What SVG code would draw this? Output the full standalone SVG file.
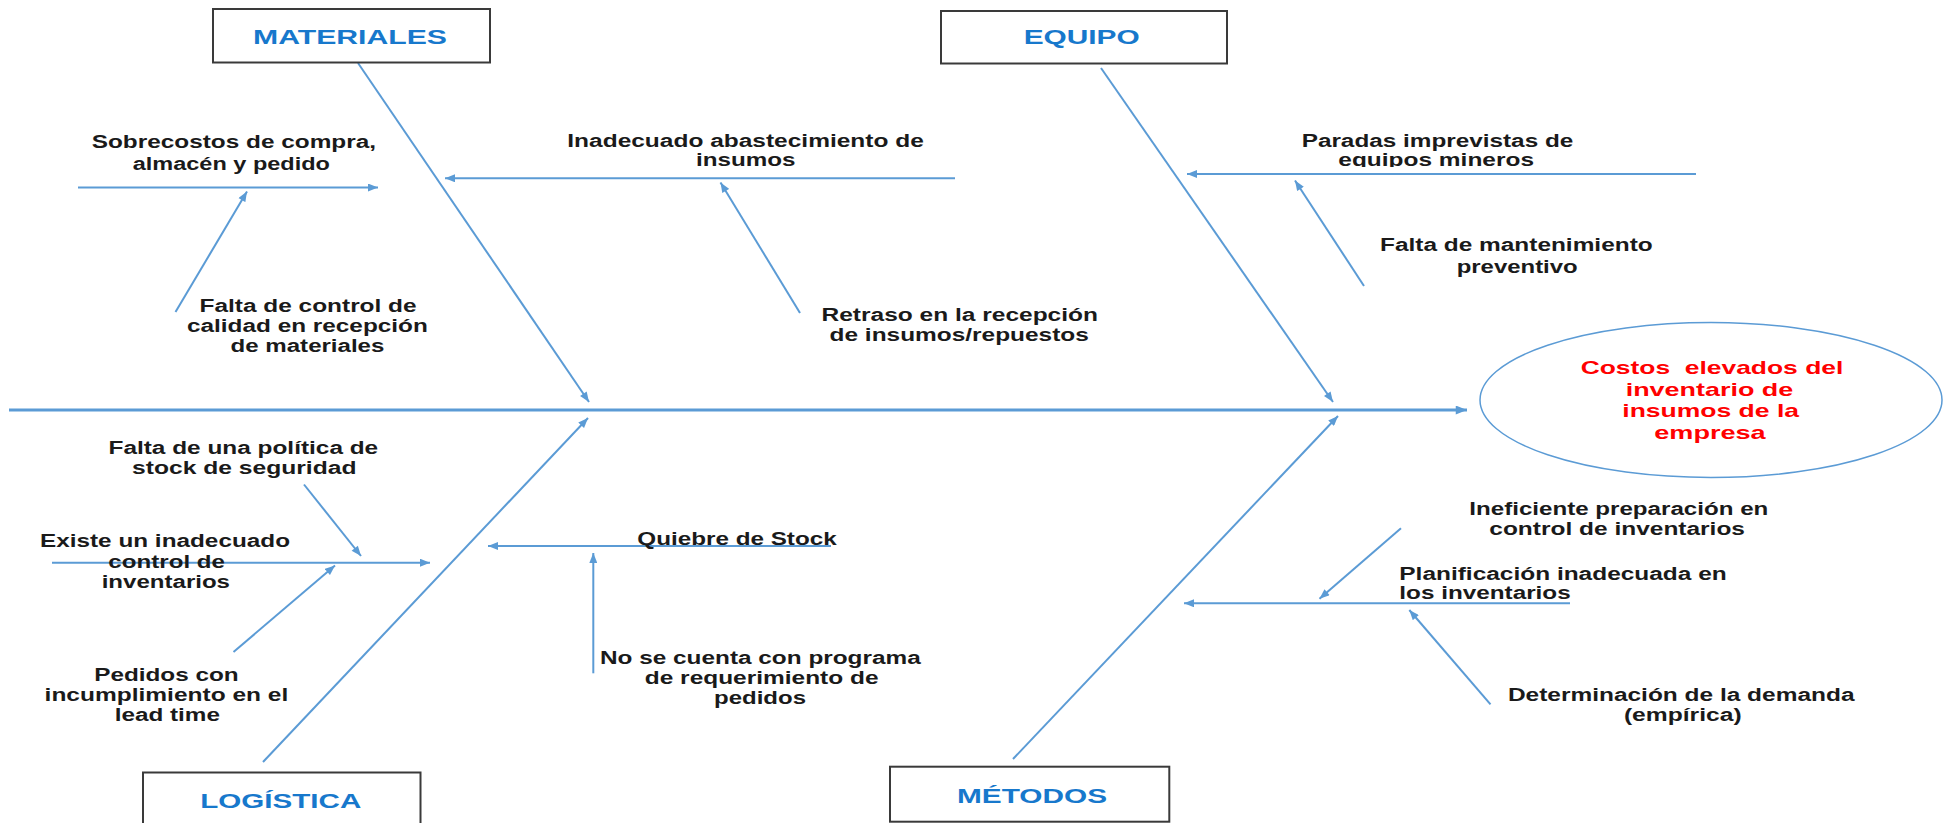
<svg xmlns="http://www.w3.org/2000/svg" width="1943" height="823" viewBox="0 0 1943 823">
<style>
.ln{stroke:#5b9bd5;stroke-width:2;fill:none}
.sp{stroke:#5b9bd5;stroke-width:3;fill:none}
.box{fill:#ffffff;stroke:#3a3a3a;stroke-width:2}
.cat{font-family:"Liberation Sans",Arial,sans-serif;font-weight:bold;font-size:21px;fill:#1778cc}
.t{font-family:"Liberation Sans",Arial,sans-serif;font-weight:bold;font-size:18px;fill:#1a1a1a}
.eff{font-family:"Liberation Sans",Arial,sans-serif;font-weight:bold;font-size:19px;fill:#ff0000}
</style>
<defs>
<marker id="ah" viewBox="0 0 10 8" refX="10" refY="4" markerWidth="11" markerHeight="8" markerUnits="userSpaceOnUse" orient="auto">
<path d="M0,0 L10,4 L0,8 z" fill="#5b9bd5"/>
</marker>
<marker id="ahb" viewBox="0 0 10 8" refX="10" refY="4" markerWidth="13" markerHeight="9" markerUnits="userSpaceOnUse" orient="auto">
<path d="M0,0 L10,4 L0,8 z" fill="#5b9bd5"/>
</marker>
<clipPath id="clipEq"><rect x="1320" y="120" width="240" height="47"/></clipPath>
</defs>
<rect width="1943" height="823" fill="#ffffff"/>

<g id="connectors">
<line class="sp" x1="9" y1="410" x2="1467" y2="410" marker-end="url(#ahb)"/>
<line class="ln" x1="358" y1="63" x2="589" y2="402" marker-end="url(#ah)"/>
<line class="ln" x1="1101" y1="68" x2="1333" y2="402" marker-end="url(#ah)"/>
<line class="ln" x1="263" y1="762" x2="588" y2="418" marker-end="url(#ah)"/>
<line class="ln" x1="1013" y1="759" x2="1338" y2="416" marker-end="url(#ah)"/>
<line class="ln" x1="78" y1="187.5" x2="378" y2="187.5" marker-end="url(#ah)"/>
<line class="ln" x1="175.5" y1="312" x2="247" y2="191.5" marker-end="url(#ah)"/>
<line class="ln" x1="955" y1="178.3" x2="445" y2="178.3" marker-end="url(#ah)"/>
<line class="ln" x1="800" y1="313" x2="720.5" y2="182.5" marker-end="url(#ah)"/>
<line class="ln" x1="1696" y1="174" x2="1187" y2="174" marker-end="url(#ah)"/>
<line class="ln" x1="1364" y1="286" x2="1295" y2="180.5" marker-end="url(#ah)"/>
<line class="ln" x1="52" y1="562.7" x2="430" y2="562.7" marker-end="url(#ah)"/>
<line class="ln" x1="304" y1="484.5" x2="361" y2="556" marker-end="url(#ah)"/>
<line class="ln" x1="233.5" y1="652" x2="335" y2="565.5" marker-end="url(#ah)"/>
<line class="ln" x1="831" y1="546" x2="488" y2="546" marker-end="url(#ah)"/>
<line class="ln" x1="593.3" y1="673.3" x2="593.3" y2="553" marker-end="url(#ah)"/>
<line class="ln" x1="1570" y1="603.3" x2="1184" y2="603.3" marker-end="url(#ah)"/>
<line class="ln" x1="1401" y1="528.3" x2="1319.5" y2="598.7" marker-end="url(#ah)"/>
<line class="ln" x1="1490.5" y1="704.3" x2="1409.3" y2="610" marker-end="url(#ah)"/>
</g>

<g id="materiales">
<rect class="box" x="213" y="9" width="277" height="53.5"/>
<text class="cat" x="253" y="44" textLength="194" lengthAdjust="spacingAndGlyphs">MATERIALES</text>
</g>
<g id="equipo">
<rect class="box" x="941" y="11" width="286" height="52.5"/>
<text class="cat" x="1023.7" y="44.3" textLength="116" lengthAdjust="spacingAndGlyphs">EQUIPO</text>
</g>
<g id="logistica">
<rect class="box" x="143" y="772.5" width="277.5" height="60"/>
<text class="cat" x="200.3" y="807.7" textLength="161" lengthAdjust="spacingAndGlyphs">LOGÍSTICA</text>
</g>
<g id="metodos">
<rect class="box" x="890" y="766.7" width="279.3" height="55"/>
<text class="cat" x="957" y="802.7" textLength="150" lengthAdjust="spacingAndGlyphs">MÉTODOS</text>
</g>

<g id="efecto">
<ellipse cx="1711" cy="400" rx="231" ry="77.5" fill="#ffffff" stroke="#5b9bd5" stroke-width="1.5"/>
<text class="eff" x="1580.7" y="374.3" textLength="262.6" lengthAdjust="spacingAndGlyphs" style="white-space:pre">Costos  elevados del</text>
<text class="eff" x="1625.7" y="395.8" textLength="167.6" lengthAdjust="spacingAndGlyphs">inventario de</text>
<text class="eff" x="1622.3" y="417.3" textLength="176.7" lengthAdjust="spacingAndGlyphs">insumos de la</text>
<text class="eff" x="1654.3" y="438.8" textLength="111.4" lengthAdjust="spacingAndGlyphs">empresa</text>
</g>

<g id="sobrecostos">
<text class="t" x="91.7" y="148.3" textLength="284.3" lengthAdjust="spacingAndGlyphs">Sobrecostos de compra,</text>
<text class="t" x="132.7" y="170" textLength="197.3" lengthAdjust="spacingAndGlyphs">almacén y pedido</text>
</g>
<g id="falta-control-calidad">
<text class="t" x="199.6" y="311.7" textLength="217" lengthAdjust="spacingAndGlyphs">Falta de control de</text>
<text class="t" x="187" y="331.7" textLength="240.8" lengthAdjust="spacingAndGlyphs">calidad en recepción</text>
<text class="t" x="230.6" y="351.7" textLength="153.8" lengthAdjust="spacingAndGlyphs">de materiales</text>
</g>
<g id="inadecuado-abastecimiento">
<text class="t" x="567.3" y="146.7" textLength="356.5" lengthAdjust="spacingAndGlyphs">Inadecuado abastecimiento de</text>
<text class="t" x="696" y="166" textLength="99.5" lengthAdjust="spacingAndGlyphs">insumos</text>
</g>
<g id="retraso">
<text class="t" x="821.5" y="320.7" textLength="276.5" lengthAdjust="spacingAndGlyphs">Retraso en la recepción</text>
<text class="t" x="829.6" y="340.7" textLength="259.2" lengthAdjust="spacingAndGlyphs">de insumos/repuestos</text>
</g>
<g id="paradas">
<text class="t" x="1301.7" y="146.7" textLength="271.6" lengthAdjust="spacingAndGlyphs">Paradas imprevistas de</text>
<text class="t" x="1338.3" y="166" textLength="195.7" lengthAdjust="spacingAndGlyphs" clip-path="url(#clipEq)">equipos mineros</text>
</g>
<g id="mantenimiento">
<text class="t" x="1380" y="251" textLength="272.7" lengthAdjust="spacingAndGlyphs">Falta de mantenimiento</text>
<text class="t" x="1456.7" y="272.7" textLength="121" lengthAdjust="spacingAndGlyphs">preventivo</text>
</g>
<g id="existe">
<text class="t" x="40" y="547.3" textLength="250" lengthAdjust="spacingAndGlyphs">Existe un inadecuado</text>
<text class="t" x="108.3" y="567.7" textLength="116.7" lengthAdjust="spacingAndGlyphs">control de</text>
<text class="t" x="101.7" y="588.3" textLength="128.3" lengthAdjust="spacingAndGlyphs">inventarios</text>
</g>
<g id="politica">
<text class="t" x="108.5" y="453.7" textLength="269.7" lengthAdjust="spacingAndGlyphs">Falta de una política de</text>
<text class="t" x="132" y="473.7" textLength="224.5" lengthAdjust="spacingAndGlyphs">stock de seguridad</text>
</g>
<g id="pedidos">
<text class="t" x="94.2" y="681" textLength="144.5" lengthAdjust="spacingAndGlyphs">Pedidos con</text>
<text class="t" x="44.6" y="701" textLength="243.7" lengthAdjust="spacingAndGlyphs">incumplimiento en el</text>
<text class="t" x="114.7" y="721" textLength="105.3" lengthAdjust="spacingAndGlyphs">lead time</text>
</g>
<g id="quiebre">
<text class="t" x="637.3" y="544.5" textLength="199.4" lengthAdjust="spacingAndGlyphs">Quiebre de Stock</text>
</g>
<g id="programa">
<text class="t" x="600" y="664.3" textLength="320.7" lengthAdjust="spacingAndGlyphs">No se cuenta con programa</text>
<text class="t" x="644.8" y="684.3" textLength="233.7" lengthAdjust="spacingAndGlyphs">de requerimiento de</text>
<text class="t" x="714" y="704.3" textLength="92" lengthAdjust="spacingAndGlyphs">pedidos</text>
</g>
<g id="planificacion">
<text class="t" x="1399.3" y="580" textLength="327.4" lengthAdjust="spacingAndGlyphs">Planificación inadecuada en</text>
<text class="t" x="1399.3" y="599" textLength="171.4" lengthAdjust="spacingAndGlyphs">los inventarios</text>
</g>
<g id="ineficiente">
<text class="t" x="1469.3" y="515" textLength="299" lengthAdjust="spacingAndGlyphs">Ineficiente preparación en</text>
<text class="t" x="1489.3" y="535" textLength="255.7" lengthAdjust="spacingAndGlyphs">control de inventarios</text>
</g>
<g id="demanda">
<text class="t" x="1507.9" y="701" textLength="346.6" lengthAdjust="spacingAndGlyphs">Determinación de la demanda</text>
<text class="t" x="1623.9" y="721" textLength="117.8" lengthAdjust="spacingAndGlyphs">(empírica)</text>
</g>
</svg>
